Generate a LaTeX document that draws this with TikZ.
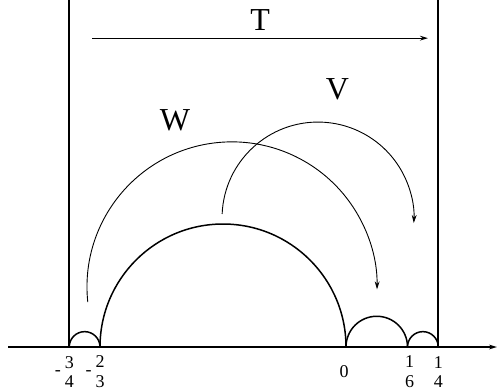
\documentclass[tikz,border=0pt]{standalone}
\usepackage{fontspec}
\setmainfont{Liberation Serif}
\usetikzlibrary{positioning,arrows.meta}

\begin{document}
\begin{tikzpicture}[
  x=184.5pt, y=184.5pt,
  >={Stealth[length=4pt,width=2.4pt]},
  map/.style={font=\fontsize{16}{16}\selectfont, inner sep=0pt},
  frac/.style={align=center, font=\fontsize{9}{9.8}\selectfont, inner sep=0pt},
  minus/.style={font=\fontsize{9}{9}\selectfont, inner sep=0pt},
  wall/.style={line width=1pt},
  geod/.style={line width=0.75pt},
  move/.style={line width=0.45pt, ->},
]
  \useasboundingbox (-0.9377,-0.1192) rectangle (0.4146,0.9404);
  % real line
  \coordinate (xl) at (-0.916,0);
  \coordinate (xr) at (0.409,0);
  \draw[geod, ->] (xl) -- (xr);
  \coordinate (p1) at (-3/4,0);
  \coordinate (p2) at (-2/3,0);
  \coordinate (p3) at (0,0);
  \coordinate (p4) at (1/6,0);
  \coordinate (p5) at (1/4,0);
  % sides of the strip
  \draw[wall] (p1) -- ++(0,0.9404);
  \draw[wall] (p5) -- ++(0,0.9404);
  % geodesics
  \foreach \s/\r in {p1/{1/24},p2/{1/3},p3/{1/12},p4/{1/24}}
    \draw[geod] (\s) arc[start angle=180, end angle=0, radius=\r];
  % the maps
  \coordinate (t0) at (-0.688,0.837);
  \coordinate (t1) at (0.222,0.837);
  \draw[move] (t0) -- (t1);
  \node[map] (T) at (-0.233,0.886) {T};
  \coordinate (w0) at (-0.6998,0.1219);
  \draw[move] (w0) arc[start angle=186, end angle=-1, radius=0.393];
  \node[map] (W) at (-0.4634,0.6138) {W};
  \coordinate (v0) at (-0.3357,0.3605);
  \draw[move] (v0) arc[start angle=177.6, end angle=-3, radius=0.260];
  \node[map] (V) at (-0.023,0.699) {V};
  % labels on the line
  \node[frac] (f34) at (-3/4,-0.0675) {3\\4};
  \node[minus, left=1.5pt of f34, yshift=-0.5pt] (m34) {-};
  \node[frac] (f23) at (-2/3,-0.0675) {2\\3};
  \node[minus, left=1.5pt of f23, yshift=-0.5pt] (m23) {-};
  \node[frac] (z) at (-0.005,-0.067) {0};
  \node[frac] (f16) at (1/6+0.006,-0.0675) {1\\6};
  \node[frac] (f14) at (1/4,-0.0675) {1\\4};
\end{tikzpicture}
\end{document}
